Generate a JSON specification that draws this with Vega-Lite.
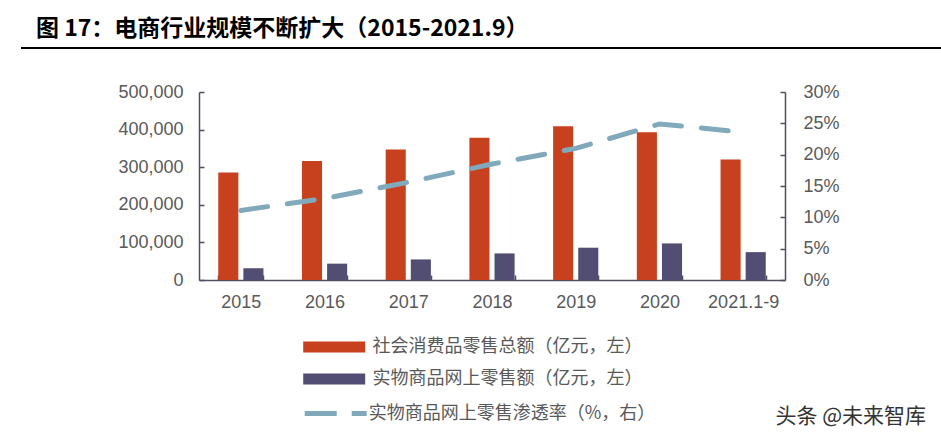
{
  "$schema": "https://vega.github.io/schema/vega-lite/v6.json",
  "autosize": {"type": "pad"},
  "padding": {"left": 20, "top": 18, "right": 0, "bottom": 6},
  "background": "white",
  "datasets": {
    "sales": [
      {"年份": "2015", "指标": "社会消费品零售总额（亿元，左）", "金额": 286000},
      {"年份": "2015", "指标": "实物商品网上零售额（亿元，左）", "金额": 31500},
      {"年份": "2016", "指标": "社会消费品零售总额（亿元，左）", "金额": 316800},
      {"年份": "2016", "指标": "实物商品网上零售额（亿元，左）", "金额": 43500},
      {"年份": "2017", "指标": "社会消费品零售总额（亿元，左）", "金额": 347200},
      {"年份": "2017", "指标": "实物商品网上零售额（亿元，左）", "金额": 54700},
      {"年份": "2018", "指标": "社会消费品零售总额（亿元，左）", "金额": 378000},
      {"年份": "2018", "指标": "实物商品网上零售额（亿元，左）", "金额": 70700},
      {"年份": "2019", "指标": "社会消费品零售总额（亿元，左）", "金额": 409000},
      {"年份": "2019", "指标": "实物商品网上零售额（亿元，左）", "金额": 85900},
      {"年份": "2020", "指标": "社会消费品零售总额（亿元，左）", "金额": 393000},
      {"年份": "2020", "指标": "实物商品网上零售额（亿元，左）", "金额": 97300},
      {"年份": "2021.1-9", "指标": "社会消费品零售总额（亿元，左）", "金额": 320500},
      {"年份": "2021.1-9", "指标": "实物商品网上零售额（亿元，左）", "金额": 74100}
    ],
    "rate": [
      {"年份": "2015", "渗透率": 11.1},
      {"年份": "2016", "渗透率": 13.0},
      {"年份": "2017", "渗透率": 15.6},
      {"年份": "2018", "渗透率": 18.5},
      {"年份": "2019", "渗透率": 21.0},
      {"年份": "2020", "渗透率": 24.9},
      {"年份": "2021.1-9", "渗透率": 23.6}
    ]
  },
  "spacing": 34,
  "vconcat": [
    {
      "title": {"text": "图 17：电商行业规模不断扩大（2015-2021.9）", "anchor": "start", "frame": "group", "font": "Noto Sans CJK SC", "fontSize": 23, "fontWeight": "bold", "color": "#000000", "dx": 15, "offset": 5},
      "width": 921,
      "height": 2,
      "data": {"values": [{"k": 0}]},
      "mark": {"type": "rule", "color": "#000000", "strokeWidth": 2},
      "encoding": {"y": {"datum": 0, "type": "quantitative", "scale": {"domain": [0, 1]}, "axis": null}}
    },
    {
      "spacing": 0,
      "hconcat": [
        {"width": 96, "height": 188, "data": {"values": []}, "mark": "point", "encoding": {}},
        {
          "width": 586,
          "height": 188,
          "title": {"text": "头条 @未来智库", "orient": "bottom", "anchor": "end", "frame": "group", "font": "Noto Sans CJK SC", "fontSize": 21, "fontWeight": "normal", "color": "#333333", "dx": 141, "offset": 95},
          "layer": [
            {
              "data": {"name": "sales"},
              "mark": {"type": "bar"},
              "encoding": {
                "x": {"field": "年份", "type": "nominal", "sort": null, "title": null,
                  "scale": {"paddingInner": 0.46, "paddingOuter": 0.23},
                  "axis": {"labelAngle": 0, "labelFont": "Liberation Sans", "labelFontSize": 18, "labelColor": "#595959", "labelPadding": 18, "domainColor": "#4F4F5F", "domainWidth": 1.5, "tickColor": "#4F4F5F", "tickSize": -5, "tickWidth": 1.5, "tickBand": "extent"}},
                "xOffset": {"field": "指标", "type": "nominal", "sort": null, "scale": {"paddingInner": 0.2, "paddingOuter": 0}},
                "y": {"field": "金额", "type": "quantitative", "title": null,
                  "scale": {"domain": [0, 500000]},
                  "axis": {"values": [0, 100000, 200000, 300000, 400000, 500000], "labelExpr": "format(datum.value, ',')", "grid": false, "labelFont": "Liberation Sans", "labelFontSize": 18, "labelColor": "#595959", "labelPadding": 21, "domainColor": "#4F4F5F", "domainWidth": 1.5, "tickColor": "#4F4F5F", "tickSize": -5, "tickWidth": 1.5}},
                "color": {"field": "指标", "type": "nominal", "sort": null,
                  "scale": {"domain": ["社会消费品零售总额（亿元，左）", "实物商品网上零售额（亿元，左）"], "range": ["#C8411F", "#524D72"]},
                  "legend": {"title": null, "orient": "none", "legendX": 302.7, "legendY": 290.5, "direction": "vertical", "symbolType": "M-3,-0.53H3V0.53H-3Z", "symbolSize": 427, "symbolStrokeWidth": 0, "labelOffset": 27.7, "rowPadding": 12, "labelFont": "Noto Sans CJK SC", "labelFontSize": 18, "labelColor": "#595959", "labelLimit": 400, "padding": 0}}
              }
            },
            {
              "data": {"name": "rate"},
              "mark": {"type": "line", "strokeWidth": 5, "strokeDash": [27, 20], "strokeCap": "round"},
              "encoding": {
                "x": {"field": "年份", "type": "nominal", "sort": null},
                "y": {"field": "渗透率", "type": "quantitative", "title": null,
                  "scale": {"domain": [0, 30]},
                  "axis": {"orient": "right", "values": [0, 5, 10, 15, 20, 25, 30], "labelExpr": "datum.value + '%'", "grid": false, "labelFont": "Liberation Sans", "labelFontSize": 18, "labelColor": "#595959", "labelPadding": 23, "domainColor": "#4F4F5F", "domainWidth": 1.5, "tickColor": "#4F4F5F", "tickSize": -5, "tickWidth": 1.5}},
                "stroke": {"datum": "实物商品网上零售渗透率（%，右）", "scale": {"range": ["#80AABB"]},
                  "legend": {"title": null, "orient": "none", "legendX": 301.7, "legendY": 354.5, "symbolType": "M-3,0H3", "symbolSize": 427, "symbolStrokeWidth": 5, "symbolDash": [32, 15], "labelOffset": 20, "labelFont": "Noto Sans CJK SC", "labelFontSize": 18, "labelColor": "#595959", "labelLimit": 400, "padding": 0}}
              }
            }
          ],
          "resolve": {"scale": {"y": "independent"}}
        }
      ]
    }
  ],
  "config": {"view": {"stroke": null}}
}
